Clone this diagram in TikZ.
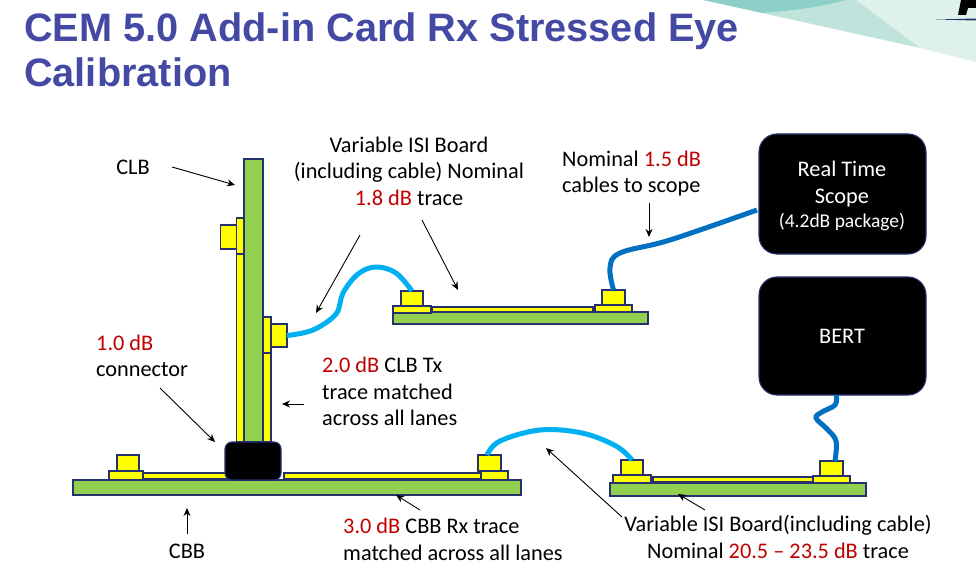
\documentclass[tikz,border=0pt]{standalone}
\usepackage{fontspec}
\setmainfont{Carlito}
\newfontfamily\titlefont{Liberation Sans}
\definecolor{pcbGreen}{RGB}{146,208,80}
\definecolor{padYellow}{RGB}{255,255,0}
\definecolor{edgeBlue}{RGB}{38,50,110}
\definecolor{cableLight}{RGB}{0,176,240}
\definecolor{cableDark}{RGB}{0,112,192}
\definecolor{lossRed}{RGB}{192,0,0}
\definecolor{titleBlue}{RGB}{68,74,164}
\definecolor{bannerDark}{RGB}{141,208,200}
\definecolor{bannerMid}{RGB}{192,228,220}
\definecolor{bannerPale}{RGB}{223,241,235}
\usetikzlibrary{arrows.meta,positioning}
\tikzset{
    partbox/.style={draw=edgeBlue, line width=1.1pt, inner sep=0pt, outer sep=0pt},
    pcb/.style={partbox, fill=pcbGreen},
    pad/.style={partbox, fill=padYellow},
    blackbox/.style={partbox, fill=black, rounded corners=#1},
    cableA/.style={cableLight, line width=5pt},
    cableB/.style={cableDark, line width=5pt},
    callout/.style={-{Stealth[length=8pt,width=7pt]}, black, line width=0.9pt},
    txt/.style={font=\fontsize{22.3}{26.5}\selectfont, align=center, inner sep=0pt},
    txtleft/.style={txt, align=left},
    whitetxt/.style={txt, text=white},
    titletxt/.style={anchor=west, inner sep=0pt, text=titleBlue, font=\titlefont\bfseries\fontsize{39.7}{46}\selectfont},
}
% part given by its corners: style, name, x0, y0, x1, y1
\newcommand{\partat}[6]{\node[#1, anchor=center, minimum width={(#5-#3)*1pt}, minimum height={(#6-#4)*1pt}] (#2) at ({(#3+#5)/2},{(#4+#6)/2}) {};}
\newcommand{\loss}[1]{\textcolor{lossRed}{#1}}

\begin{document}
\begin{tikzpicture}[x=1pt,y=-1pt]
    \useasboundingbox (0,0) rectangle (976,577);

    % banner
    \fill[bannerPale] (856,0) -- (976,0) -- (976,62) -- (920,48) -- cycle;
    \fill[bannerMid] (762,13) .. controls (795,11) and (825,6) .. (846,0) -- (856,0) -- (920,48) -- cycle;
    \fill[bannerDark] (703,0) -- (762,13) .. controls (795,11) and (825,6) .. (846,0) -- cycle;
    \fill[black] (961,0) -- (976,0) -- (976,8) -- (968,8) -- (966,15) -- (958,15) -- cycle;
    \fill[edgeBlue] (936,19.5) -- (976,18.5) -- (976,20.5) -- cycle;

    % title
    \node[titletxt] (titleA) at (24,31) {CEM 5.0 Add-in Card Rx Stressed Eye};
    \node[titletxt] (titleB) at (24,72) {Calibration};

    % CLB
    \partat{pad}{clbTraceL}{236.5}{254}{244}{442}
    \partat{pad}{clbTraceR}{263}{353}{271}{442}
    \partat{pcb}{clb}{244}{159}{263}{442}
    \partat{pad}{clbFlatL}{236.5}{218}{244}{254}
    \partat{pad}{clbPortL}{220.5}{225}{236.5}{249}
    \partat{pad}{clbFlatR}{263}{317}{271}{353}
    \partat{pad}{clbPortR}{271}{324}{287}{347}

    % CBB
    \partat{pcb}{cbb}{73}{480}{521}{495}
    \partat{pad}{cbbFlatL}{109}{471}{143}{480}
    \partat{pad}{cbbPortL}{117}{455}{139}{471}
    \partat{pad}{cbbTraceL}{143}{473}{227}{479}
    \partat{pad}{cbbTraceR}{284}{473}{481}{479}
    \partat{pad}{cbbFlatR}{481}{471}{508}{480}
    \partat{pad}{cbbPortR}{478}{455}{501}{471}
    \partat{blackbox=7pt}{conn}{225}{442}{281}{480}

    % upper ISI board
    \partat{pcb}{isiA}{393}{312}{648}{324}
    \partat{pad}{isiAFlatL}{393}{306}{431}{313}
    \partat{pad}{isiAPortL}{401}{291}{423}{306}
    \partat{pad}{isiATrace}{432}{307}{593}{312}
    \partat{pad}{isiAFlatR}{595}{305}{632}{312}
    \partat{pad}{isiAPortR}{602}{290}{625}{305}

    % lower ISI board
    \partat{pcb}{isiB}{610}{483}{866}{496}
    \partat{pad}{isiBFlatL}{613}{475}{651}{483}
    \partat{pad}{isiBPortL}{621}{460}{643}{475}
    \partat{pad}{isiBTrace}{653}{477}{814}{482}
    \partat{pad}{isiBFlatR}{813}{476}{850}{483}
    \partat{pad}{isiBPortR}{820}{461}{843}{476}

    % instruments
    \partat{blackbox=18pt}{scope}{759}{134}{926}{254}
    \partat{blackbox=18pt}{bert}{759}{277}{926}{395}
    \node[whitetxt] (scopeText) at (842,184) {Real Time\\Scope};
    \node[whitetxt, font=\fontsize{19.5}{23}\selectfont] (scopePkg) at (842,222) {(4.2dB package)};
    \node[whitetxt] (bertText) at (842,336) {BERT};

    % cables
    \draw[cableA] plot[smooth, tension=0.6] coordinates {(clbPortR.east) (313,330) (336,314) (343,293) (358,274) (376,267) (396,273) (isiAPortL.north)};
    \draw[cableA] plot[smooth, tension=0.6] coordinates {([xshift=-2.5pt]cbbPortR.north) (500,441) (540,430) (582,433) (616,446) (isiBPortL.north)};
    \draw[cableB] plot[smooth, tension=0.6] coordinates {(isiAPortR.north) (610,268) (620,253) (670,240) ([xshift=-2pt,yshift=-16pt]scope.west)};
    \draw[cableB] plot[smooth, tension=0.6] coordinates {([xshift=-6pt]bert.south) (835,405) (822,412) (816,418) (827,429) (836,441) ([xshift=3.5pt]isiBPortR.north)};

    % labels
    \node[txt] (lblCLB) at (133,167) {CLB};
    \node[txt] (lblIsiA) at (409,171) {Variable ISI Board\\(including cable) Nominal\\\loss{1.8 dB} trace};
    \node[txtleft, anchor=west] (lblCable) at (562,173.5) {Nominal \loss{1.5 dB}\\cables to scope};
    \node[txtleft, anchor=west] (lblConn) at (96,356) {\loss{1.0 dB}\\connector};
    \node[txtleft, anchor=west] (lblClbTx) at (322,391.5) {\loss{2.0 dB} CLB Tx\\trace matched\\across all lanes};
    \node[txtleft, anchor=west] (lblCbbRx) at (343,539.5) {\loss{3.0 dB} CBB Rx trace\\matched across all lanes};
    \node[txt] (lblCBB) at (187,551) {CBB};
    \node[txt] (lblIsiB) at (778,537) {Variable ISI Board(including cable)\\Nominal \loss{20.5 -- 23.5 dB} trace};

    % callouts
    \coordinate (tailCLB) at (172,167);
    \coordinate (tipCLB) at (235,185);
    \coordinate (tailIsiA) at (360,235);
    \coordinate (tipIsiA) at (316,313);
    \coordinate (tailIsiAb) at (422,220);
    \coordinate (tipIsiAb) at (458,290);
    \coordinate (tailCable) at (649,203);
    \coordinate (tipCable) at (649,237);
    \coordinate (tailConn) at (160,388);
    \coordinate (tipConn) at (215,442);
    \coordinate (tailClbTx) at (304,404);
    \coordinate (tipClbTx) at (282,404);
    \coordinate (tailCBB) at (187,534);
    \coordinate (tipCBB) at (187,508);
    \coordinate (tailCbbRx) at (420,510);
    \coordinate (tipCbbRx) at (396,495);
    \coordinate (tailIsiB) at (622,517);
    \coordinate (tipIsiB) at (546,448);
    \coordinate (tailIsiBb) at (705,510);
    \coordinate (tipIsiBb) at (678,494);
    \foreach \nm in {CLB,IsiA,IsiAb,Cable,Conn,ClbTx,CBB,CbbRx,IsiB,IsiBb}
        \draw[callout] (tail\nm) -- (tip\nm);
\end{tikzpicture}
\end{document}
